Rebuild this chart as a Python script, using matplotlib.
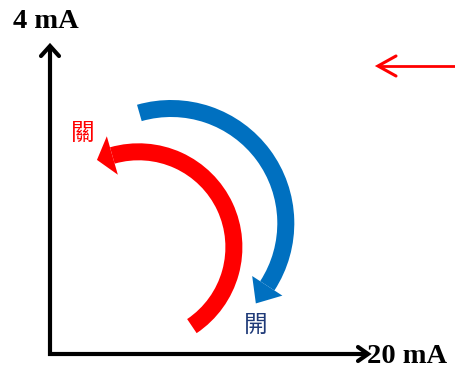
import numpy as np
import matplotlib
matplotlib.use('Agg')
import matplotlib.pyplot as plt
from matplotlib.patches import Wedge, Polygon

# labels
y_label = '4 mA'
x_label = '20 mA'
close_label = '關'
open_label = '開'

# arcs: (center x, center y, outer radius, band width, start angle, end angle)
red_arc = (138.6, 247.1, 103.8, 17, -106, 56)
blue_arc = (171.0, 223.3, 123.3, 17, -106, 33)

RED = '#ff0000'
BLUE = '#0070c0'
NAVY = '#1f3a78'


def arc_head(ax, arc, at_start, length, half_w, color):
    cx, cy, r_out, w, t1, t2 = arc
    r = r_out - w / 2
    th = np.radians(t1 if at_start else t2)
    radial = np.array([np.cos(th), np.sin(th)])
    tang = np.array([-np.sin(th), np.cos(th)])
    if at_start:
        tang = -tang
    base = np.array([cx, cy]) + r * radial
    pts = [base + half_w * radial, base + length * tang, base - half_w * radial]
    ax.add_patch(Polygon(pts, closed=True, color=color, lw=0))


def chevron(ax, tip, direction, length, half_w, lw, color):
    tip = np.array(tip, dtype=float)
    d = np.array(direction, dtype=float)
    n = np.array([-d[1], d[0]])
    a = tip - length * d + half_w * n
    b = tip - length * d - half_w * n
    ax.plot([a[0], tip[0], b[0]], [a[1], tip[1], b[1]], color=color, lw=lw,
            solid_capstyle='round', solid_joinstyle='miter')


fig = plt.figure(figsize=(4.56, 3.69), dpi=100)
ax = fig.add_axes([0, 0, 1, 1])
ax.set_xlim(0, 456)
ax.set_ylim(369, 0)
ax.axis('off')

# axes
ax.plot([50, 50], [355.5, 48], color='black', lw=3, solid_capstyle='butt')
ax.plot([48.5, 366], [354, 354], color='black', lw=3, solid_capstyle='butt')
chevron(ax, (50, 46), (0, -1), 10, 9, 3, 'black')
chevron(ax, (368, 354), (1, 0), 10, 7, 3, 'black')

ax.text(13, 28, y_label, fontsize=20.5, fontweight='bold',
        family='Liberation Serif', ha='left', va='baseline')
ax.text(367, 363, x_label, fontsize=20.5, fontweight='bold',
        family='Liberation Serif', ha='left', va='baseline')

# curved arrows
for arc, col, at_start, hl, hw in [(red_arc, RED, True, 16, 20),
                                   (blue_arc, BLUE, False, 21, 18)]:
    cx, cy, r_out, w, t1, t2 = arc
    ax.add_patch(Wedge((cx, cy), r_out, t1, t2, width=w, color=col, lw=0))
    arc_head(ax, arc, at_start, hl, hw, col)

ax.text(82.5, 134, close_label, fontsize=17, color=RED,
        family=['Noto Sans CJK TC', 'DejaVu Sans'], ha='center', va='center')
ax.text(256, 325, open_label, fontsize=17, color=NAVY,
        family=['Noto Sans CJK TC', 'DejaVu Sans'], ha='center', va='center')

# red arrow at top right
ax.plot([456, 379], [66, 66], color=RED, lw=2, solid_capstyle='butt')
chevron(ax, (378, 66), (-1, 0), 18, 10, 2.2, RED)

fig.savefig('out.png', dpi=100)
